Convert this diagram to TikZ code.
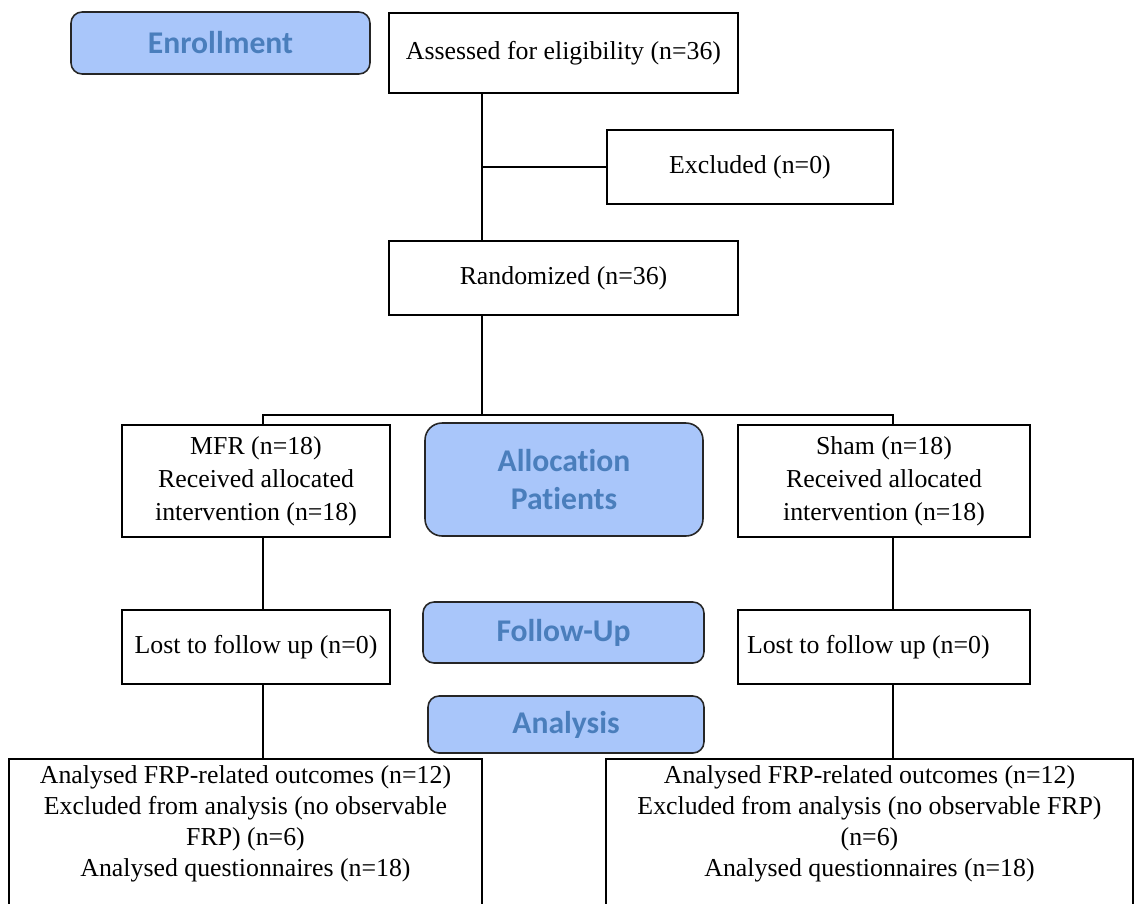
\documentclass[tikz,border=0pt]{standalone}
\usepackage{fontspec}
\setmainfont{Liberation Serif}
\newfontfamily\calfont{Carlito}[Ligatures=NoCommon]
\usepackage{xcolor}
\usetikzlibrary{calc}
\definecolor{phasefill}{RGB}{169,198,250}
\definecolor{phasetext}{RGB}{74,126,188}

\tikzset{
 box/.style={draw, line width=1pt, fill=white, inner sep=0pt, align=center,
   font=\fontsize{14.7}{18.7}\selectfont},
 outbox/.style={draw, line width=1pt, fill=white, anchor=north, inner xsep=0pt, inner ysep=4pt,
   font=\fontsize{14.7}{17.6}\selectfont},
 phase/.style={draw=black!85, line width=0.9pt, fill=phasefill, rounded corners=0.22cm,
   text=phasetext, align=center, inner sep=0pt, font=\calfont\bfseries\fontsize{18}{21.5}\selectfont},
 link/.style={line width=0.9pt}
}

\begin{document}
\begin{tikzpicture}[x=0.02cm, y=-0.02cm]
\useasboundingbox (0,0) rectangle (1135,903);
\clip (0,0) rectangle (1135,903);
\coordinate (spine) at (482,0);
\coordinate (colL) at (263,0);
\coordinate (colR) at (893,0);
\coordinate (split) at (482,415);

% phase labels
\node[phase, minimum width=5.98cm, minimum height=1.24cm] (enroll) at (220.5,43) {Enrollment};
\node[phase, minimum width=5.56cm, minimum height=2.26cm, rounded corners=0.34cm] (alloc) at (564,479.5) {Allocation\\Patients};
\node[phase, minimum width=5.62cm, minimum height=1.22cm] (follow) at (563.5,632.5) {Follow-Up};
\node[phase, minimum width=5.52cm, minimum height=1.14cm] (anal) at (566,724.5) {Analysis};

% boxes
\node[box, minimum width=6.98cm, minimum height=1.60cm] (assess) at (563.5,53) {Assessed for eligibility (n=36)};
\node[box, minimum width=5.72cm, minimum height=1.48cm] (excl) at (750,167) {Excluded (n=0)};
\node[box, minimum width=6.98cm, minimum height=1.48cm] (rand) at (563.5,278) {Randomized (n=36)};
\node[box, minimum width=5.36cm, minimum height=2.24cm] (mfr) at (256,481) {MFR (n=18)\\Received allocated\\intervention (n=18)};
\node[box, minimum width=5.84cm, minimum height=2.24cm] (sham) at (884,481) {Sham (n=18)\\Received allocated\\intervention (n=18)};
\node[box, minimum width=5.36cm, minimum height=1.48cm] (lostL) at (256,647) {Lost to follow up (n=0)};
\node[box, minimum width=5.84cm, minimum height=1.48cm, text width=5.48cm, align=flush left, inner xsep=0.18cm] (lostR) at (884,647) {Lost to follow up (n=0)};
\node[outbox, minimum width=9.46cm] (outL) at (245.5,758) {\parbox[t][95pt][t]{9.3cm}{\centering
 Analysed FRP-related outcomes (n=12)\\Excluded from analysis (no observable\\FRP) (n=6)\\Analysed questionnaires (n=18)}};
\node[outbox, minimum width=10.54cm] (outR) at (869.5,758) {\parbox[t][95pt][t]{10.4cm}{\centering
 Analysed FRP-related outcomes (n=12)\\Excluded from analysis (no observable FRP)\\(n=6)\\Analysed questionnaires (n=18)}};

% connectors
\draw[link] (assess.south -| spine) -- (rand.north -| spine);
\draw[link] (excl.west -| spine) -- (excl.west);
\draw[link] (rand.south -| spine) -- (split);
\draw[link] (mfr.north -| colL) |- (split) -| (sham.north -| colR);
\foreach \a/\b/\c in {mfr/lostL/colL, lostL/outL/colL, sham/lostR/colR, lostR/outR/colR}
 \draw[link] (\a.south -| \c) -- (\b.north -| \c);
\end{tikzpicture}
\end{document}
